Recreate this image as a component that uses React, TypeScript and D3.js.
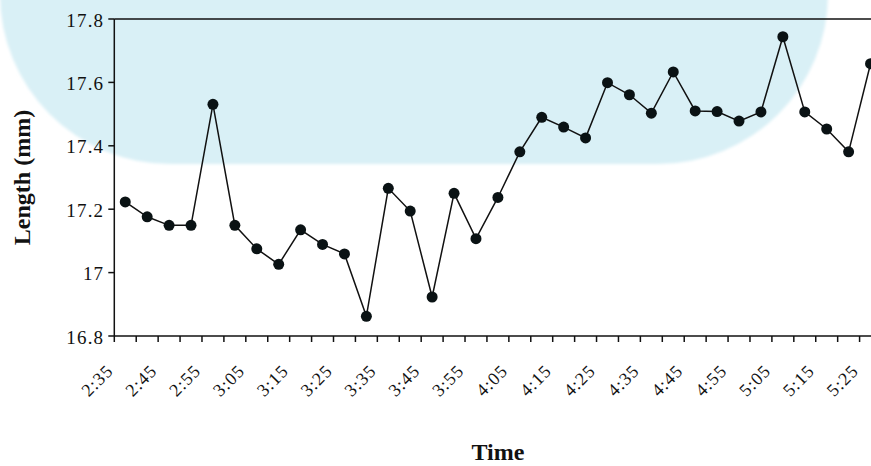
import React from "react";
import * as d3 from "d3";

const times: string[] = [
  "2:35","2:40","2:45","2:50","2:55","3:00","3:05","3:10","3:15","3:20",
  "3:25","3:30","3:35","3:40","3:45","3:50","3:55","4:00","4:05","4:10",
  "4:15","4:20","4:25","4:30","4:35","4:40","4:45","4:50","4:55","5:00",
  "5:05","5:10","5:15","5:20","5:25",
];
const lengths: number[] = [
  17.223, 17.176, 17.149, 17.149, 17.531, 17.149, 17.075, 17.026, 17.135, 17.089,
  17.059, 16.862, 17.266, 17.194, 16.923, 17.25, 17.107, 17.237, 17.381, 17.49,
  17.459, 17.425, 17.599, 17.561, 17.503, 17.633, 17.51, 17.508, 17.478, 17.507,
  17.744, 17.507, 17.453, 17.381, 17.659,
];
const yTicks: number[] = [16.8, 17, 17.2, 17.4, 17.6, 17.8];
const xLabelTimes: string[] = times.filter((_, i) => i % 2 === 0);

const W = 871;
const H = 466;
const left = 114.3;
const top = 19;
const bottom = 336;
const bandW = 21.92;
const serif = "'Liberation Serif', 'Times New Roman', serif";

export default function App() {
  const x = d3
    .scaleBand<string>()
    .domain(times)
    .range([left, left + bandW * times.length])
    .padding(0);
  const y = d3.scaleLinear().domain([16.8, 17.8]).range([bottom, top]);
  const cx = (t: string) => (x(t) as number) + x.bandwidth() / 2;
  const line = d3
    .line<number>()
    .x((_, i) => cx(times[i]))
    .y((d) => y(d));
  const right = left + bandW * times.length;
  const boundaries = times.map((t) => x(t) as number).concat([right]);
  const fmt = (v: number) => String(+v.toFixed(1));

  return (
    <svg
      width={W}
      height={H}
      style={{ position: "absolute", left: 0, top: 0, background: "#fff" }}
    >
      <defs>
        <filter id="soft" x="-10%" y="-10%" width="120%" height="120%">
          <feGaussianBlur stdDeviation="1.5" />
        </filter>
      </defs>
      <rect
        x={0}
        y={-400}
        width={828}
        height={564}
        rx={170}
        ry={170}
        fill="#d9f0f6"
        filter="url(#soft)"
      />
      {/* frame */}
      <line x1={left} x2={right} y1={top} y2={top} stroke="#111" strokeWidth={1.5} />
      <line x1={left} x2={right} y1={bottom} y2={bottom} stroke="#111" strokeWidth={1.5} />
      <line x1={left} x2={left} y1={top} y2={bottom} stroke="#111" strokeWidth={1.5} />
      {/* y ticks */}
      {yTicks.map((v) => (
        <g key={v}>
          <line x1={left - 6} x2={left} y1={y(v)} y2={y(v)} stroke="#111" strokeWidth={1.5} />
          <text
            x={left - 10}
            y={y(v) + 7.5}
            textAnchor="end"
            fontFamily={serif}
            fontSize={19}
            letterSpacing={1.2}
            fill="#111"
          >
            {fmt(v)}
          </text>
        </g>
      ))}
      {/* x ticks */}
      {boundaries.map((b, i) => (
        <line key={i} x1={b} x2={b} y1={bottom} y2={bottom + 6} stroke="#111" strokeWidth={1.5} />
      ))}
      {xLabelTimes.map((t) => (
        <text
          key={t}
          transform={`translate(${cx(t) - 11},${bottom + 36}) rotate(-45)`}
          textAnchor="end"
          fontFamily={serif}
          fontSize={18}
          letterSpacing={1}
          fill="#111"
        >
          {t}
        </text>
      ))}
      {/* line and points */}
      <path d={line(lengths) || ""} fill="none" stroke="#111" strokeWidth={1.5} />
      {lengths.map((v, i) => (
        <circle key={i} cx={cx(times[i])} cy={y(v)} r={5.5} fill="#0a1214" />
      ))}
      {/* titles */}
      <text
        transform={`translate(29.5,${(top + bottom) / 2}) rotate(-90)`}
        textAnchor="middle"
        fontFamily={serif}
        fontWeight="bold"
        fontSize={24}
        fill="#111"
      >
        Length (mm)
      </text>
      <text
        x={(left + right) / 2}
        y={460}
        textAnchor="middle"
        fontFamily={serif}
        fontWeight="bold"
        fontSize={24}
        fill="#111"
      >
        Time
      </text>
    </svg>
  );
}
